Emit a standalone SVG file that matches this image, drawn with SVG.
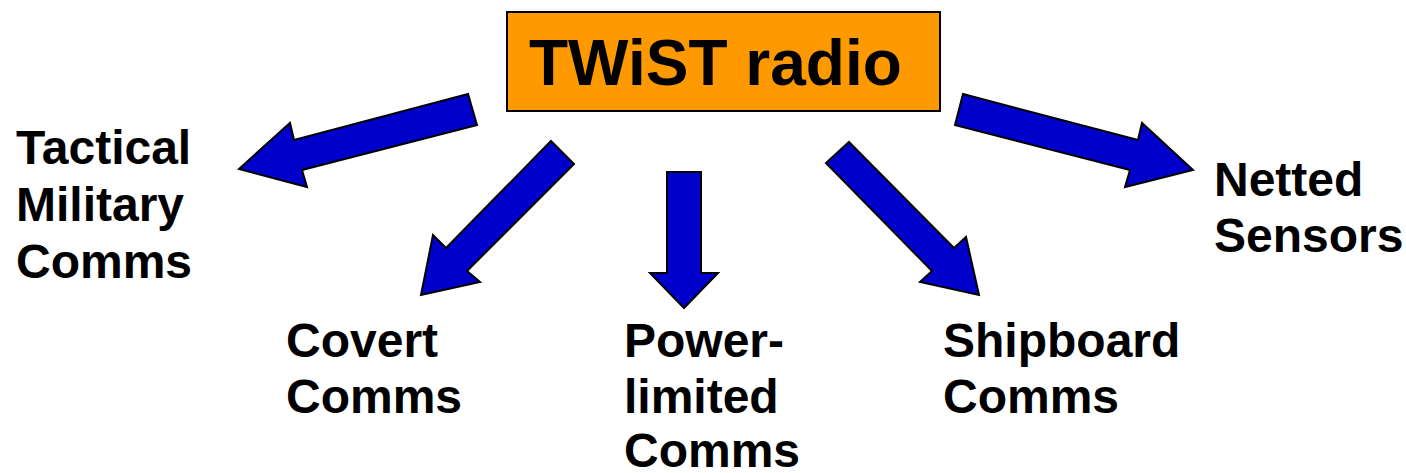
<svg xmlns="http://www.w3.org/2000/svg" width="1406" height="473" viewBox="0 0 1406 473">
<style>
.lbl{font-family:"Liberation Sans",Arial,sans-serif;font-weight:bold;font-size:48px;fill:#000}
.title{font-family:"Liberation Sans",Arial,sans-serif;font-weight:bold;font-size:64px;fill:#000}
.arrow{fill:#0000CC;stroke:#000;stroke-width:2;stroke-linejoin:miter}
</style>
<rect width="1406" height="473" fill="#fff"/>
<g id="twist">
<rect x="507" y="12" width="433" height="99" fill="#FF9900" stroke="#000" stroke-width="2"/>
<text class="title" x="529" y="85">TWiST radio</text>
</g>
<g id="connectors">
<polygon class="arrow" points="468,94 294,140 290,123 239,169 307,187 302,170 477,125"/>
<polygon class="arrow" points="551,141 574,164 467,271 480,282 421,295 433,235 446,248"/>
<polygon class="arrow" points="667,172 701,172 701,273 718,273 684,308 650,273 667,273"/>
<polygon class="arrow" points="849,142 954,248 966,237 979,295 920,282 932,271 826,163"/>
<polygon class="arrow" points="963,94 1138,140 1142,123 1193,170 1125,187 1130,170 955,125"/>
</g>
<g id="tactical">
<text class="lbl" x="16" y="164">Tactical</text>
<text class="lbl" x="16" y="221">Military</text>
<text class="lbl" x="16" y="278">Comms</text>
</g>
<g id="covert">
<text class="lbl" x="286" y="357">Covert</text>
<text class="lbl" x="286" y="413">Comms</text>
</g>
<g id="power">
<text class="lbl" x="624" y="357">Power-</text>
<text class="lbl" x="624" y="413">limited</text>
<text class="lbl" x="624" y="467">Comms</text>
</g>
<g id="shipboard">
<text class="lbl" x="943" y="357">Shipboard</text>
<text class="lbl" x="943" y="413">Comms</text>
</g>
<g id="netted">
<text class="lbl" x="1214" y="196">Netted</text>
<text class="lbl" x="1214" y="252">Sensors</text>
</g>
</svg>
